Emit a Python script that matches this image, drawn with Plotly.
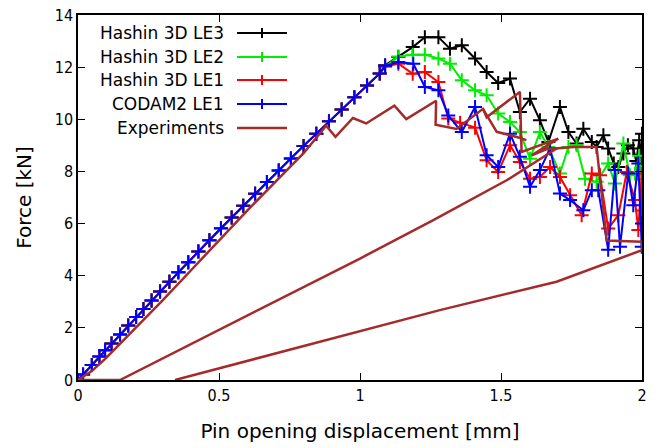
import plotly.graph_objects as go

# ---------------- data ----------------
# common initial (linear) loading branch of the simulations
x_rise = [0, 0.018, 0.049, 0.076, 0.096, 0.119, 0.149, 0.178, 0.206, 0.232, 0.261,
          0.291, 0.324, 0.356, 0.391, 0.427, 0.466, 0.507, 0.545, 0.586, 0.628,
          0.670, 0.712, 0.755, 0.800, 0.845, 0.890, 0.935, 0.980, 1.025, 1.070]
y_rise = [0, 0.21, 0.58, 0.90, 1.14, 1.40, 1.75, 2.09, 2.42, 2.72, 3.05,
          3.39, 3.77, 4.13, 4.52, 4.93, 5.36, 5.82, 6.23, 6.68, 7.14,
          7.59, 8.04, 8.50, 8.98, 9.45, 9.92, 10.38, 10.85, 11.30, 11.76]

le3_x = [1.089, 1.136, 1.187, 1.230, 1.278, 1.319, 1.361, 1.408, 1.449, 1.490, 1.532,
         1.567, 1.603, 1.638, 1.668, 1.709, 1.739, 1.768, 1.792, 1.822, 1.839, 1.863,
         1.880, 1.900, 1.916, 1.934, 1.950, 1.969, 1.980, 1.990, 1.999, 2.0]
le3_y = [12.07, 12.39, 12.77, 13.15, 13.15, 12.71, 12.84, 12.33, 11.81, 11.39, 11.56,
         10.28, 10.79, 9.96, 9.13, 10.47, 9.51, 9.07, 9.64, 9.13, 8.94, 9.39,
         8.88, 8.30, 8.17, 8.69, 9.00, 8.88, 8.40, 9.20, 8.50, 9.45]

le2_x = [1.089, 1.136, 1.187, 1.230, 1.278, 1.319, 1.361, 1.408, 1.449, 1.490, 1.532,
         1.567, 1.603, 1.638, 1.668, 1.709, 1.739, 1.768, 1.798, 1.839, 1.880, 1.904,
         1.934, 1.957, 1.975, 1.990, 2.0]
le2_y = [12.02, 12.41, 12.48, 12.48, 12.33, 12.13, 11.50, 11.11, 10.92, 10.22, 9.90,
         9.51, 8.49, 9.51, 8.94, 7.92, 8.94, 9.00, 7.72, 7.60, 8.30, 7.54,
         9.07, 7.85, 7.92, 8.60, 7.70]

le1_x = [1.089, 1.136, 1.187, 1.230, 1.278, 1.313, 1.355, 1.408, 1.449, 1.490, 1.532,
         1.567, 1.603, 1.638, 1.674, 1.709, 1.745, 1.786, 1.822, 1.851, 1.880, 1.916,
         1.946, 1.975, 1.987, 1.999, 2.0]
le1_y = [12.02, 12.13, 11.75, 11.81, 11.43, 10.03, 9.87, 9.68, 8.43, 7.98, 9.00,
         8.36, 7.72, 7.79, 8.17, 7.79, 7.09, 6.32, 7.92, 7.85, 5.81, 6.32,
         7.98, 6.90, 5.75, 7.92, 6.50]

codam_x = [1.089, 1.136, 1.189, 1.230, 1.278, 1.313, 1.361, 1.408, 1.449, 1.490, 1.532,
           1.567, 1.603, 1.638, 1.674, 1.709, 1.745, 1.792, 1.822, 1.845, 1.880, 1.904,
           1.922, 1.951, 1.969, 1.987, 1.999, 2.0]
codam_y = [12.05, 12.20, 12.13, 11.24, 11.11, 10.15, 9.51, 10.47, 8.62, 8.17, 9.45,
           8.56, 7.41, 8.05, 8.88, 7.15, 6.90, 6.51, 7.28, 7.28, 5.00, 8.05,
           5.11, 7.92, 6.70, 8.30, 5.11, 6.00]

# experiments (None separates recorded branches)
exp_x = [0, 0.05, 0.10, 0.20, 0.30, 0.40, 0.50, 0.60, 0.70, 0.80, 0.880, 0.913, 0.975,
         1.022, 1.122, 1.164, 1.270, 1.268, 1.342, 1.436, 1.449, 1.567, 1.573, 1.703,
         1.609, 1.660, 1.757, 1.839, 1.875, 2.0, 2.0, 1.697, 1.283, 1.0, 0.344,
         None,
         0, 0.149, 1.0, 1.26, 1.52, 1.70,
         None,
         1.436, 1.485, 1.556, 1.590]
exp_y = [0, 0.35, 0.85, 1.95, 3.05, 4.20, 5.35, 6.50, 7.60, 8.70, 9.75, 9.33, 10.05,
         9.84, 10.52, 10.01, 10.71, 9.79, 9.63, 10.40, 10.08, 11.05, 8.75, 9.26,
         8.62, 8.85, 8.94, 8.94, 5.35, 5.30, 4.98, 3.77, 2.68, 1.88, 0,
         None,
         0, 0, 4.66, 6.13, 7.66, 8.90,
         None,
         10.40, 9.52, 9.32, 9.20]

names = ["Hashin 3D LE3", "Hashin 3D LE2", "Hashin 3D LE1", "CODAM2 LE1", "Experiments"]
colors = ["#000000", "#00ee00", "#ff0000", "#0000ff", "#a52a2a"]

# ---------------- figure ----------------
fig = go.Figure()
sims = [(le3_x, le3_y), (le2_x, le2_y), (le1_x, le1_y), (codam_x, codam_y)]
for (tx, ty), nm, col in zip(sims, names[:4], colors[:4]):
    fig.add_trace(go.Scatter(
        x=x_rise + tx, y=y_rise + ty, name=nm, mode="lines+markers",
        line=dict(color=col, width=2),
        marker=dict(symbol="cross-thin", size=10, line=dict(color=col, width=2)),
        showlegend=False))
fig.add_trace(go.Scatter(x=exp_x, y=exp_y, name=names[4], mode="lines",
                         line=dict(color=colors[4], width=2.5),
                         connectgaps=False, showlegend=False))

# gnuplot-style key (text right aligned, sample to the right)
W, H = 661, 448
ml, mr, mt, mb = 78, 19, 15, 68
pw, ph = W - ml - mr, H - mt - mb
def px(xp):
    return (xp - ml) / pw
def py(yp):
    return 1 - (yp - mt) / ph
rows = [33, 57, 80, 104, 128]
for nm, col, yr in zip(names, colors, rows):
    fig.add_annotation(x=px(226), y=py(yr), xref="paper", yref="paper", text=nm,
                       showarrow=False, xanchor="right", yanchor="middle",
                       font=dict(family="DejaVu Sans", size=17, color="black"))
    fig.add_shape(type="line", xref="paper", yref="paper", x0=px(237), x1=px(287),
                  y0=py(yr), y1=py(yr), line=dict(color=col, width=2.5 if nm == "Experiments" else 2))
    if nm != "Experiments":
        fig.add_shape(type="line", xref="paper", yref="paper", x0=px(262), x1=px(262),
                      y0=py(yr - 5), y1=py(yr + 5), line=dict(color=col, width=2))

axis_common = dict(showline=True, linecolor="black", linewidth=1.5, mirror="ticks",
                   ticks="inside", ticklen=7, tickwidth=1, tickcolor="black",
                   showgrid=False, zeroline=False, automargin=False,
                   tickfont=dict(family="DejaVu Sans Condensed, Liberation Sans Narrow, DejaVu Sans",
                                 size=16, color="black"))
fig.update_layout(
    width=W, height=H, autosize=False,
    margin=dict(l=ml, r=mr, t=mt, b=mb),
    paper_bgcolor="white", plot_bgcolor="white",
    xaxis=dict(range=[0, 2], dtick=0.5, tick0=0,
               title=dict(text="Pin opening displacement [mm]", standoff=20,
                          font=dict(family="DejaVu Sans", size=20, color="black")),
               **axis_common),
    yaxis=dict(range=[0, 14], dtick=2, tick0=0,
               title=dict(text="Force [kN]", standoff=18,
                          font=dict(family="DejaVu Sans", size=20, color="black")),
               **axis_common),
)
fig.write_html("out.html")
